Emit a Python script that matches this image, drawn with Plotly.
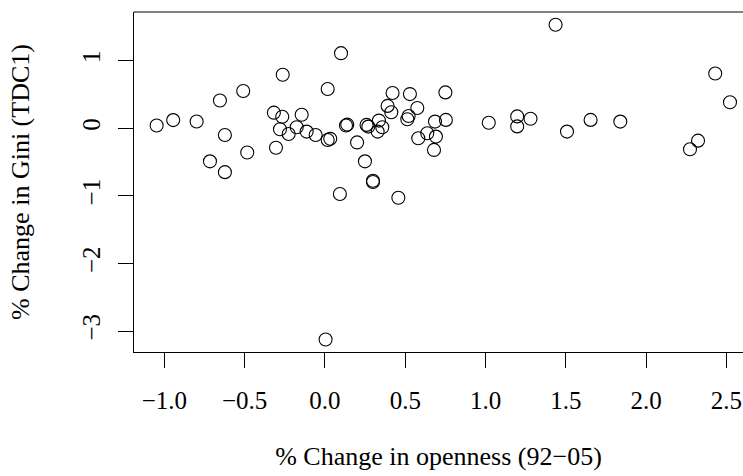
import plotly.graph_objects as go

# Change in trade openness, 1992-2005 (%)
openness = [
    -1.048, -0.945, -0.799, -0.654, -0.509, -0.623, -0.484, -0.716, -0.623,
    -0.263, -0.318, -0.266, -0.145, -0.280, -0.226, -0.176, -0.114, -0.058,
    0.017, 0.033, -0.305, 0.017, 0.100, 0.131, 0.139, 0.200, 0.249, 0.299,
    0.299, 0.259, 0.270, 0.336, 0.357, 0.328, 0.390, 0.413, 0.421, 0.529,
    0.575, 0.521, 0.513, 0.581, 0.637, 0.691, 0.679, 0.685, 0.753, 0.750,
    1.020, 1.197, 1.197, 1.280, 1.436, 1.507, 1.654, 1.839, 2.430, 2.522,
    2.323, 2.273, 0.093, 0.457, 0.004,
]

# Change in the Gini coefficient (TDC1, %)
gini_change = [
    0.04, 0.12, 0.10, 0.41, 0.55, -0.10, -0.36, -0.49, -0.65,
    0.79, 0.23, 0.17, 0.20, -0.015, -0.085, 0.015, -0.05, -0.10,
    -0.175, -0.157, -0.29, 0.58, 1.11, 0.04, 0.053, -0.21, -0.49, -0.776,
    -0.796, 0.049, 0.024, 0.113, 0.015, -0.05, 0.33, 0.237, 0.52, 0.505,
    0.30, 0.18, 0.133, -0.148, -0.074, -0.124, -0.321, 0.098, 0.123, 0.53,
    0.08, 0.175, 0.027, 0.14, 1.53, -0.05, 0.123, 0.098, 0.809, 0.385,
    -0.184, -0.311, -0.973, -1.028, -3.126,
]

x_ticks = [-1.0, -0.5, 0.0, 0.5, 1.0, 1.5, 2.0, 2.5]
y_ticks = [-3, -2, -1, 0, 1]

FONT = "Liberation Serif"
TICK_SIZE = 25
TITLE_SIZE = 26

fig = go.Figure(
    go.Scatter(
        x=openness,
        y=gini_change,
        mode="markers",
        marker=dict(symbol="circle-open", size=13, color="black",
                    line=dict(width=1.1, color="black")),
        hoverinfo="skip",
    )
)

axis_common = dict(
    showgrid=False,
    zeroline=False,
    showline=True,
    linecolor="black",
    linewidth=1,
    ticks="outside",
    ticklen=15,
    tickwidth=1,
    tickcolor="black",
    tickfont=dict(family=FONT, size=TICK_SIZE, color="black"),
)

fig.update_xaxes(
    range=[-1.189, 2.603],
    tickvals=x_ticks,
    ticktext=[f"{v:.1f}".replace("-", "\u2212") for v in x_ticks],
    ticklabelstandoff=11,
    title=dict(text="% Change in openness (92\u221205)",
               font=dict(family=FONT, size=TITLE_SIZE, color="black"), standoff=33),
    **axis_common,
)
fig.update_yaxes(
    range=[-3.310, 1.719],
    tickvals=y_ticks,
    ticktext=[str(v).replace("-", "\u2212") for v in y_ticks],
    tickangle=-90,
    ticklabelstandoff=8,
    title=dict(text="% Change in Gini (TDC1)",
               font=dict(family=FONT, size=TITLE_SIZE, color="black"), standoff=40),
    **axis_common,
)

# Top edge of the plot frame
fig.add_shape(type="line", xref="paper", yref="paper", x0=0, x1=1, y0=1, y1=1,
              line=dict(color="black", width=1))

fig.update_layout(
    width=743,
    height=476,
    margin=dict(l=134, r=0, t=12, b=124),
    plot_bgcolor="white",
    paper_bgcolor="white",
    showlegend=False,
)

fig.write_html("out.html")
